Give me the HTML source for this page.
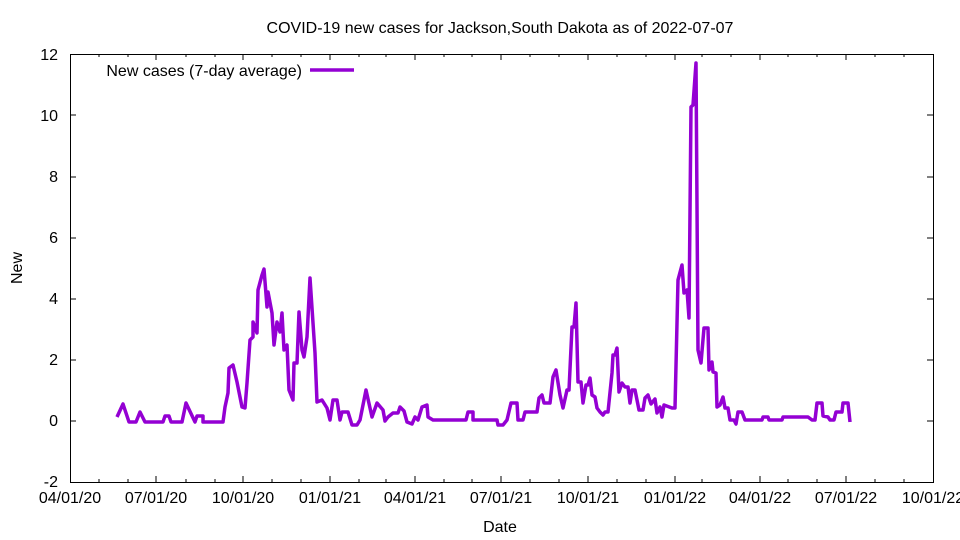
<!DOCTYPE html>
<html><head><meta charset="utf-8"><style>body{margin:0;background:#fff}svg{display:block}text{font-family:"Liberation Sans",sans-serif;font-size:16px;fill:#000}</style></head><body>
<svg width="960" height="540" viewBox="0 0 960 540">
<rect width="960" height="540" fill="#fff"/>
<g stroke="#000" stroke-width="1" fill="none">
<rect x="70.5" y="54.5" width="863" height="428"/>
<path d="M70 421h6M933 421h-6M70 360h6M933 360h-6M70 299h6M933 299h-6M70 238h6M933 238h-6M70 177h6M933 177h-6M70 115h6M933 115h-6"/>
<path d="M156 482v-6M156 54v6M243 482v-6M243 54v6M330 482v-6M330 54v6M415 482v-6M415 54v6M501 482v-6M501 54v6M588 482v-6M588 54v6M675 482v-6M675 54v6M760 482v-6M760 54v6M846 482v-6M846 54v6"/>
<path d="M99 482v-3M99 54v3M128 482v-3M128 54v3M186 482v-3M186 54v3M215 482v-3M215 54v3M272 482v-3M272 54v3M301 482v-3M301 54v3M359 482v-3M359 54v3M386 482v-3M386 54v3M444 482v-3M444 54v3M472 482v-3M472 54v3M530 482v-3M530 54v3M559 482v-3M559 54v3M617 482v-3M617 54v3M646 482v-3M646 54v3M702 482v-3M702 54v3M731 482v-3M731 54v3M788 482v-3M788 54v3M817 482v-3M817 54v3M875 482v-3M875 54v3M904 482v-3M904 54v3"/>
</g>
<g text-anchor="end">
<text x="58" y="487">-2</text><text x="58" y="426">0</text><text x="58" y="365">2</text><text x="58" y="304">4</text><text x="58" y="243">6</text><text x="58" y="182">8</text><text x="58" y="121">10</text><text x="58" y="60">12</text>
</g>
<g text-anchor="middle">
<text x="70" y="503">04/01/20</text><text x="156" y="503">07/01/20</text><text x="243" y="503">10/01/20</text><text x="330" y="503">01/01/21</text><text x="415" y="503">04/01/21</text><text x="501" y="503">07/01/21</text><text x="588" y="503">10/01/21</text><text x="675" y="503">01/01/22</text><text x="760" y="503">04/01/22</text><text x="846" y="503">07/01/22</text><text x="933" y="503">10/01/22</text>
<text x="500" y="532">Date</text>
<text x="500" y="33">COVID-19 new cases for Jackson,South Dakota as of 2022-07-07</text>
<text transform="translate(22,268) rotate(-90)">New</text>
</g>
<text x="302" y="76" text-anchor="end">New cases (7-day average)</text>
<g stroke="#9400D3" stroke-width="3.5" fill="none" stroke-linejoin="round">
<path d="M310 70H354"/>
<polyline points="117,417 123,404 129,422 136,422 140,412 145,422 163,422 165,416 169,416 171,422 182,422 186,403 195,422 197,416 203,416 203,422 223,422 225,407 228,393 229,368 233,365 237,382 242,407 245,408 247,383 250,340 253,337 253,322 257,333 258,290 262,275 264,269 267,307 268,292 272,313 274,345 277,322 280,332 282,313 284,350 287,345 289,390 293,400 294,363 297,363 299,312 302,350 304,357 307,337 310,278 315,353 317,402 322,400 327,408 330,420 333,400 337,400 340,420 342,412 348,412 352,425 357,425 360,420 366,390 372,417 377,403 383,410 385,421 388,417 393,413 398,413 400,407 404,411 407,422 412,424 415,417 418,420 422,407 427,405 428,417 433,420 466,420 468,412 473,412 473,420 497,420 498,425 503,425 507,420 511,403 517,403 518,420 523,420 525,412 537,412 539,398 542,395 544,403 550,403 553,377 556,370 560,395 563,408 567,390 569,390 572,327 574,327 576,303 578,382 581,382 583,403 586,385 588,385 590,378 592,395 595,397 597,408 600,412 603,415 605,412 608,412 612,373 613,355 615,355 617,348 619,392 622,383 625,387 628,387 630,403 632,390 635,390 639,410 643,410 645,398 648,395 651,404 655,399 657,413 660,407 662,417 664,405 672,408 675,408 677,323 678,280 682,265 684,293 687,290 689,318 691,107 693,105 696,63 698,350 701,363 704,328 708,328 709,370 712,362 713,372 716,373 717,407 720,405 723,397 725,408 728,408 730,420 734,420 736,424 738,412 742,412 745,420 762,420 763,417 768,417 769,420 782,420 783,417 808,417 812,420 815,420 817,403 822,403 823,416 828,417 830,420 834,420 836,412 842,412 843,403 848,403 850,422"/>
</g>
</svg>
</body></html>
